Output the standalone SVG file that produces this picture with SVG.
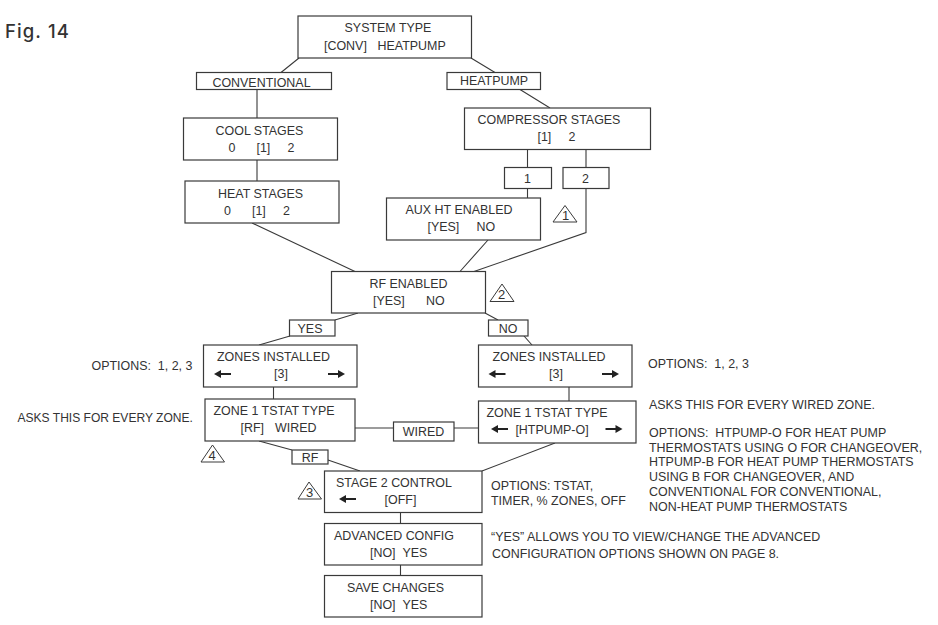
<svg xmlns="http://www.w3.org/2000/svg" width="938" height="625" viewBox="0 0 938 625">
<style>
text{font-family:"Liberation Sans",Arial,sans-serif;font-size:12.45px;fill:#333;white-space:pre}
.b{fill:#fff;stroke:#3a3a3a;stroke-width:1.2}
.c{fill:none;stroke:#3a3a3a;stroke-width:1.1}
.m{text-anchor:middle}
.t{fill:#fff;stroke:#3a3a3a;stroke-width:1}
</style>
<defs>
<path id="al" d="M0 0L7 -4V-1H17V1H7V4Z" fill="#222"/>
<path id="ar" d="M17 0L10 -4V-1H0V1H10V4Z" fill="#222"/>
</defs>
<rect width="938" height="625" fill="#fff"/>
<text id="fig" x="5" y="38" style="font-family:Inter,'Noto Sans',sans-serif;font-size:18.5px;font-weight:500;letter-spacing:1.1px">Fig. 14</text>
<g id="connectors" class="conn">
<path class="c" d="M299 58L281 72.500M471 58L495 72.500M257 89.500V118M520 89.500L550 108M257 160V181M527.500 149.500V167.500M586 149.500V167.500M527.500 188.500V198M586 188.500V232.500L474 271.500M252 223L355 271.500M488 240L460 271.500M358 313L335 320M485 313L498 320M290 336L259 345M524 336L532 345M273.500 387V399M569 387V401M355 428H393.500M454 428H478.500M259 441L292 450M328 460L360 471M555 443L482 471M400.500 512.500V523.500M400.500 565V575.500"/>
</g>
<g id="system-type"><rect class="b" x="298" y="16" width="173.500" height="42"/><text class="m" x="388" y="32">SYSTEM TYPE</text><text x="324" y="50">[CONV]</text><text x="377.500" y="50">HEATPUMP</text></g>
<g id="conventional"><rect class="b" x="196.500" y="72.500" width="135" height="17"/><text class="m" x="261.500" y="87">CONVENTIONAL</text></g>
<g id="heatpump"><rect class="b" x="447" y="72.500" width="93.500" height="17"/><text class="m" x="494" y="85">HEATPUMP</text></g>
<g id="cool-stages"><rect class="b" x="183.500" y="118" width="154" height="42"/><text class="m" x="259.500" y="135">COOL STAGES</text><text x="228.500" y="152">0</text><text x="256.500" y="152">[1]</text><text x="287.500" y="152">2</text></g>
<g id="heat-stages"><rect class="b" x="185" y="181" width="154" height="42"/><text class="m" x="260.500" y="198">HEAT STAGES</text><text x="224" y="215">0</text><text x="252" y="215">[1]</text><text x="283" y="215">2</text></g>
<g id="compressor-stages"><rect class="b" x="464.500" y="108" width="186" height="41.500"/><text class="m" x="549" y="124">COMPRESSOR STAGES</text><text x="537.500" y="141">[1]</text><text x="568.500" y="141">2</text></g>
<g id="opt-1"><rect class="b" x="504.500" y="167.500" width="47" height="21"/><text class="m" x="527.500" y="183">1</text></g>
<g id="opt-2"><rect class="b" x="563" y="167.500" width="46" height="21"/><text class="m" x="585.500" y="183">2</text></g>
<g id="aux-ht"><rect class="b" x="386.500" y="198" width="154" height="42"/><text class="m" x="459" y="214">AUX HT ENABLED</text><text x="427.500" y="231">[YES]</text><text x="476.500" y="231">NO</text></g>
<g id="note-1"><path class="t" d="M565 205.500L577 222H553Z"/><text class="m" x="565.500" y="220" style="font-size:13px">1</text></g>
<g id="rf-enabled"><rect class="b" x="331.500" y="271.500" width="154" height="41.500"/><text class="m" x="408.500" y="288">RF ENABLED</text><text x="373" y="305">[YES]</text><text x="426" y="305">NO</text></g>
<g id="note-2"><path class="t" d="M502 284L514 301.500H490Z"/><text class="m" x="501.500" y="299" style="font-size:13px">2</text></g>
<g id="yes"><rect class="b" x="289.500" y="320" width="45.500" height="16"/><text class="m" x="310" y="333">YES</text></g>
<g id="no"><rect class="b" x="488.500" y="320" width="39.500" height="16"/><text class="m" x="508" y="333">NO</text></g>
<g id="zones-left"><rect class="b" x="203.500" y="345" width="153.500" height="42"/><text class="m" x="273.500" y="361">ZONES INSTALLED</text><text class="m" x="281" y="378">[3]</text><use href="#al" x="214" y="374"/><use href="#ar" x="328" y="374"/></g>
<g id="zones-right"><rect class="b" x="478.500" y="345" width="153.500" height="42"/><text class="m" x="549" y="361">ZONES INSTALLED</text><text class="m" x="556" y="378">[3]</text><use href="#al" x="488.500" y="374"/><use href="#ar" x="602" y="374"/></g>
<g id="zone1-left"><rect class="b" x="205" y="399" width="150" height="42"/><text class="m" x="274" y="415">ZONE 1 TSTAT TYPE</text><text x="240.500" y="432">[RF]</text><text x="275" y="432">WIRED</text></g>
<g id="wired"><rect class="b" x="393.500" y="422" width="60.500" height="19"/><text class="m" x="423.500" y="436">WIRED</text></g>
<g id="zone1-right"><rect class="b" x="478.500" y="401" width="157.500" height="42"/><text class="m" x="547" y="417">ZONE 1 TSTAT TYPE</text><text class="m" x="552" y="434">[HTPUMP-O]</text><use href="#al" x="491" y="429"/><use href="#ar" x="605.500" y="429"/></g>
<g id="rf"><rect class="b" x="292" y="450" width="36" height="14"/><text class="m" x="310" y="462">RF</text></g>
<g id="note-4"><path class="t" d="M212.500 445L224.500 462H201Z"/><text class="m" x="212" y="460" style="font-size:13px">4</text></g>
<g id="stage2"><rect class="b" x="324.500" y="471" width="157.500" height="41.500"/><text class="m" x="394" y="487">STAGE 2 CONTROL</text><text class="m" x="400.500" y="504">[OFF]</text><use href="#al" x="339" y="499"/></g>
<g id="note-3"><path class="t" d="M309 482L321.500 499H298Z"/><text class="m" x="309.500" y="497" style="font-size:13px">3</text></g>
<g id="advanced"><rect class="b" x="324.500" y="523.500" width="157.500" height="41.500"/><text class="m" x="394" y="540">ADVANCED CONFIG</text><text x="370" y="557">[NO]</text><text x="402.500" y="557">YES</text></g>
<g id="save"><rect class="b" x="324.500" y="575.500" width="157.500" height="41.500"/><text class="m" x="395.500" y="592">SAVE CHANGES</text><text x="370" y="609">[NO]</text><text x="402.500" y="609">YES</text></g>
<g id="notes">
<text x="91.500" y="370">OPTIONS:  1, 2, 3</text>
<text x="648" y="368">OPTIONS:  1, 2, 3</text>
<text x="17.500" y="422" style="font-size:12.05px">ASKS THIS FOR EVERY ZONE.</text>
<text x="649" y="409">ASKS THIS FOR EVERY WIRED ZONE.</text>
<text x="649" y="437">OPTIONS:  HTPUMP-O FOR HEAT PUMP</text>
<text x="649" y="452">THERMOSTATS USING O FOR CHANGEOVER,</text>
<text x="649" y="466">HTPUMP-B FOR HEAT PUMP THERMOSTATS</text>
<text x="649" y="481">USING B FOR CHANGEOVER, AND</text>
<text x="649" y="496">CONVENTIONAL FOR CONVENTIONAL,</text>
<text x="649" y="511">NON-HEAT PUMP THERMOSTATS</text>
<text x="491" y="490">OPTIONS: TSTAT,</text>
<text x="491" y="505">TIMER, % ZONES, OFF</text>
<text x="491" y="541">“YES” ALLOWS YOU TO VIEW/CHANGE THE ADVANCED</text>
<text x="492" y="558">CONFIGURATION OPTIONS SHOWN ON PAGE 8.</text>
</g>
</svg>
